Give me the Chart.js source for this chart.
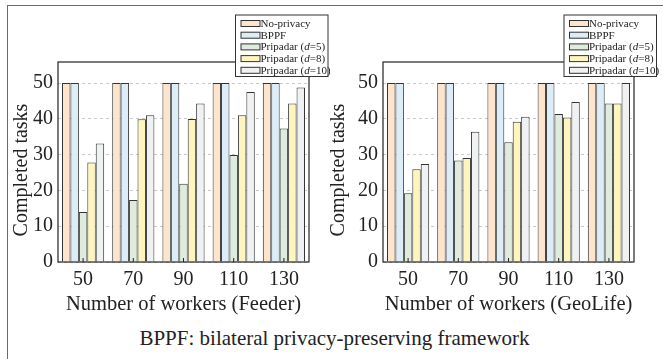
<!DOCTYPE html>
<html>
<head>
<meta charset="utf-8">
<script src="https://cdn.jsdelivr.net/npm/chart.js@4.4.1/dist/chart.umd.min.js"></script>
<style>
  body { margin: 0; background: #fff; width: 663px; height: 359px; overflow: hidden; position: relative; }
  #frame { position: absolute; left: 7px; top: 5px; width: 670px; height: 370px; border-left: 1.5px solid #6a6a6a; border-top: 1.5px solid #6a6a6a; }
  #c1 { position: absolute; left: 0; top: 0; }
  #c2 { position: absolute; left: 325px; top: 0; }
  #caption { position: absolute; left: 3px; width: 663px; top: 326px; text-align: center; line-height: 24px;
    font-family: 'Liberation Serif'; font-size: 21px; color: #222; }
</style>
</head>
<body>
<div id="frame"></div>
<canvas id="c1" width="330" height="320"></canvas>
<canvas id="c2" width="338" height="320"></canvas>
<div id="caption">BPPF: bilateral privacy-preserving framework</div>
<script>
// categories and series
var workers = ['50', '70', '90', '110', '130'];
var seriesNames = ['No-privacy', 'BPPF', 'Pripadar (d=5)', 'Pripadar (d=8)', 'Pripadar (d=10)'];
var seriesColors = ['#fde4cc', '#dcedf8', '#dfebdc', '#fdf5bd', '#eff1f3'];

// Feeder
var feederNoPrivacy = [50, 50, 50, 50, 50];
var feederBPPF = [50, 50, 50, 50, 50];
var feederD5 = [14, 17.3, 21.9, 29.9, 37.3];
var feederD8 = [27.8, 39.9, 40, 41, 44.3];
var feederD10 = [33.1, 41, 44.3, 47.5, 48.8];

// GeoLife
var geoNoPrivacy = [50, 50, 50, 50, 50];
var geoBPPF = [50, 50, 50, 50, 50];
var geoD5 = [19.2, 28.4, 33.5, 41.4, 44.3];
var geoD8 = [25.9, 29.1, 39.2, 40.4, 44.3];
var geoD10 = [27.4, 36.4, 40.6, 44.7, 50];

var yTicks = [0, 5, 10, 15, 20, 25, 30, 35, 40, 45, 50, 55];
var yTitle = 'Completed tasks';

var serif = '"Liberation Serif"';
Chart.defaults.font.family = serif;

// box around plot area, small ticks on x axis, y title and the legend box
var framePlugin = {
    id: 'framePlugin',
    afterDraw: function(chart) {
        var ctx = chart.ctx;
        var a = chart.chartArea;
        var lg = chart.options.plugins.boxLegend;
        ctx.save();
        ctx.setLineDash([]);
        ctx.strokeStyle = '#222';
        ctx.lineWidth = 1.2;
        ctx.strokeRect(a.left, a.top, a.right - a.left, a.bottom - a.top);
        var xs = chart.scales.x;
        ctx.lineWidth = 1;
        xs.ticks.forEach(function(t, i) {
            var px = xs.getPixelForTick(i);
            ctx.beginPath();
            ctx.moveTo(px, a.bottom);
            ctx.lineTo(px, a.bottom - 4);
            ctx.stroke();
        });

        // y axis title
        ctx.save();
        ctx.translate(lg.titleX, 170);
        ctx.rotate(-Math.PI / 2);
        ctx.font = '20px ' + serif;
        ctx.fillStyle = '#222';
        ctx.textAlign = 'center';
        ctx.textBaseline = 'middle';
        ctx.fillText(yTitle, 0, 0);
        ctx.restore();

        // legend
        ctx.fillStyle = '#fff';
        ctx.fillRect(lg.x, lg.y, lg.w, lg.h);
        ctx.strokeStyle = '#333';
        ctx.lineWidth = 1;
        ctx.strokeRect(lg.x, lg.y, lg.w, lg.h);
        chart.data.datasets.forEach(function(ds, i) {
            var cy = lg.y + 8.5 + i * 11.7;
            ctx.fillStyle = ds.backgroundColor;
            ctx.fillRect(lg.x + 5.5, cy - 3, 19, 6);
            ctx.strokeStyle = '#333';
            ctx.strokeRect(lg.x + 5.5, cy - 3, 19, 6);
            ctx.fillStyle = '#222';
            ctx.textBaseline = 'middle';
            ctx.textAlign = 'left';
            var x = lg.x + 25;
            var m = ds.label.match(/^(.*\()d(=.*)$/);
            var parts = m ? [[m[1], ''], ['d', 'italic '], [m[2], '']] : [[ds.label, '']];
            parts.forEach(function(p) {
                ctx.font = p[1] + '11px ' + serif;
                ctx.fillText(p[0], x, cy + 0.5);
                x += ctx.measureText(p[0]).width;
            });
        });
        ctx.restore();
    }
};

function makeChart(id, series, xTitle, titleX, legendX) {
    var datasets = series.map(function(vals, i) {
        return {
            label: seriesNames[i],
            data: vals,
            backgroundColor: seriesColors[i],
            borderColor: '#333',
            borderWidth: 1,
            borderSkipped: 'bottom'
        };
    });
    return new Chart(document.getElementById(id), {
        type: 'bar',
        data: { labels: workers, datasets: datasets },
        plugins: [framePlugin],
        options: {
            responsive: false,
            animation: false,
            layout: { padding: { left: 0, top: 62, right: id === 'c1' ? 21 : 29, bottom: 0 } },
            datasets: { bar: { categoryPercentage: 0.84, barPercentage: 1.0 } },
            plugins: {
                legend: { display: false },
                tooltip: { enabled: false },
                boxLegend: { x: legendX, y: 15, w: 92.5, h: 61.5, titleX: titleX }
            },
            scales: {
                x: {
                    grid: { display: false },
                    border: { display: false },
                    ticks: { color: '#222', font: { family: serif, size: 20 }, padding: -2 },
                    title: { display: true, text: xTitle, color: '#222',
                             font: { family: serif, size: 20.5 }, padding: { top: 0, bottom: 3 } },
                    afterFit: function(s) { s.height = 58; }
                },
                y: {
                    min: 0,
                    max: 55.9,
                    afterBuildTicks: function(s) {
                        s.ticks = yTicks.map(function(v) { return { value: v }; });
                    },
                    grid: { color: '#c9c9c9', lineWidth: 1, drawTicks: false },
                    border: { display: false, dash: [3, 3] },
                    ticks: {
                        color: '#222',
                        font: { family: serif, size: 20 },
                        padding: 5,
                        callback: function(v) { return v % 10 === 0 ? v : ''; }
                    },
                    afterFit: function(s) { s.width = 58; }
                }
            }
        }
    });
}

makeChart('c1', [feederNoPrivacy, feederBPPF, feederD5, feederD8, feederD10],
    'Number of workers (Feeder)', 21.5, 235.5);
makeChart('c2', [geoNoPrivacy, geoBPPF, geoD5, geoD8, geoD10],
    'Number of workers (GeoLife)', 14, 239);
</script>
</body>
</html>
